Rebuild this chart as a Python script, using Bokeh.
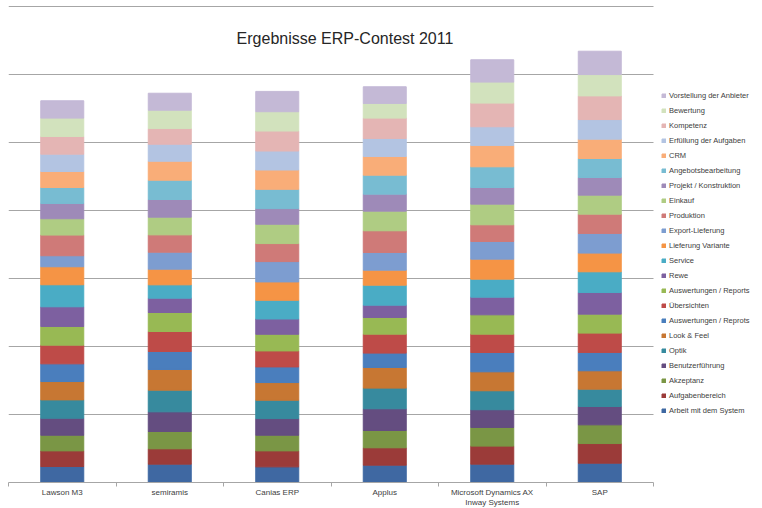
#===========================
#       Bokeh-Related Imports
from bokeh.embed import file_html
from bokeh.resources import INLINE
from bokeh.models import (ColumnDataSource, Legend, LegendItem, FixedTicker,
                          LinearAxis, Label, Grid)
from bokeh.plotting import figure

#-- companies (x categories)
companies = ["Lawson M3", "semiramis", "Canias ERP", "Applus",
             "Microsoft Dynamics AX\nInway Systems", "SAP"]

#-- criteria, bottom of the stack first
criteria = [
    "Arbeit mit dem System", "Aufgabenbereich", "Akzeptanz", "Benutzerführung",
    "Optik", "Look & Feel", "Auswertungen / Reprots", "Übersichten",
    "Auswertungen / Reports", "Rewe", "Service", "Lieferung Variante",
    "Export-Lieferung", "Produktion", "Einkauf", "Projekt / Konstruktion",
    "Angebotsbearbeitung", "CRM", "Erfüllung der Aufgaben", "Kompetenz",
    "Bewertung", "Vorstellung der Anbieter",
]

#-- scores per company, same order as criteria
lawson_m3 = [2.35, 2.30, 2.30, 2.50, 2.70, 2.70, 2.60, 2.75, 2.75, 2.89, 3.24,
             2.65, 1.62, 3.04, 2.40, 2.25, 2.35, 2.35, 2.55, 2.60, 2.70, 2.55]
semiramis = [2.70, 2.25, 2.55, 2.89, 3.19, 3.04, 2.65, 2.94, 2.79, 2.11, 1.96,
             2.30, 2.50, 2.55, 2.60, 2.60, 2.84, 2.79, 2.50, 2.30, 2.70, 2.50]
canias_erp = [2.30, 2.35, 2.30, 2.45, 2.70, 2.60, 2.30, 2.35, 2.45, 2.25, 2.75,
              2.70, 2.99, 2.65, 2.84, 2.30, 2.84, 2.84, 2.79, 2.94, 2.84, 2.99]
applus = [2.55, 2.55, 2.55, 3.19, 3.04, 3.04, 2.11, 2.79, 2.45, 1.81, 2.94,
          2.21, 2.60, 3.19, 2.89, 2.50, 2.79, 2.75, 2.65, 2.99, 2.16, 2.45]
ms_dynamics = [2.70, 2.65, 2.75, 2.60, 2.79, 2.79, 2.84, 2.70, 2.84, 2.60, 2.65,
               2.94, 2.60, 2.45, 3.04, 2.45, 3.04, 3.14, 2.75, 3.48, 3.09, 3.28]
sap = [2.84, 2.89, 2.75, 2.70, 2.55, 2.70, 2.70, 2.84, 2.79, 3.19, 3.04,
       2.75, 2.89, 2.84, 2.79, 2.60, 2.79, 2.84, 2.89, 3.48, 3.14, 3.43]

grid_values = [10, 20, 30, 40, 50, 60, 70]

colors = [
    "#3F68A2", "#9B3B39", "#7A9645", "#644D80", "#378A9E", "#C77733",
    "#4A7EBD", "#BE4B48", "#98B954", "#7D60A0", "#4AACC5", "#F59445",
    "#7D9DD0", "#CF7A78", "#AFCC83", "#9E8AB8", "#78BCD2", "#F9AD78",
    "#B3C4E2", "#E4B5B4", "#D2E2BD", "#C4B9D6",
]

FONT = "Liberation Sans"

#-- define data source (one slot per company, bars at slot centres)
n = len(companies)
rows = [lawson_m3, semiramis, canias_erp, applus, ms_dynamics, sap]
centers = [i + 0.5 for i in range(n)]
edges = list(range(n + 1))
data = {"x": centers}
keys = []
for i in range(len(criteria)):
    key = f"c{i}"
    keys.append(key)
    data[key] = [r[i] for r in rows]
source = ColumnDataSource(data=data)

#-- the frame runs to the right edge, the legend sits in its last 109 px
p = figure(
    x_range=(0, n * 754 / 645),
    y_range=(0, 70.3),
    frame_width=754,
    frame_height=478,
    x_axis_location=None,
    y_axis_location=None,
    toolbar_location=None,
    output_backend="svg",
    min_border_left=8,
    min_border_top=4,
    min_border_right=0,
    min_border_bottom=0,
)
p.outline_line_color = None

#-- horizontal grid lines, only across the bar slots
p.xgrid.visible = False
p.ygrid.visible = False
grid = Grid(dimension=1, ticker=FixedTicker(ticks=grid_values), grid_line_color="#A6A6A6")
if "cross_bounds" in Grid.properties():
    grid.cross_bounds = (0, n)
p.add_layout(grid)

#-- stacked bars
bars = p.vbar_stack(keys, x="x", width=0.4, color=colors, source=source)

#-- category axis: names under the slots, ticks between them
cat_axis = LinearAxis(ticker=FixedTicker(ticks=centers, minor_ticks=edges),
                      bounds=(0, n),
                      major_label_overrides={c: name for c, name in zip(centers, companies)},
                      axis_line_color="#A6A6A6",
                      major_tick_line_color=None,
                      minor_tick_line_color="#A6A6A6",
                      minor_tick_out=4, minor_tick_in=0,
                      major_tick_out=0, major_tick_in=0,
                      major_label_standoff=1,
                      major_label_text_font=FONT,
                      major_label_text_font_size="8px",
                      major_label_text_color="#404040")
p.add_layout(cat_axis, "below")

#-- legend, top of the stack first
items = [LegendItem(label=name, renderers=[r]) for name, r in zip(criteria, bars)]
legend = Legend(items=items[::-1], location=(653, 65),
                label_text_font=FONT, label_text_font_size="7.5px",
                label_text_color="#404040",
                glyph_width=5, glyph_height=5, label_height=13, spacing=2,
                label_standoff=3, padding=3, margin=0,
                border_line_color=None, background_fill_alpha=0)
p.add_layout(legend)

#-- chart title sits inside the plot area
p.add_layout(Label(x=3.13, y=65.25, text="Ergebnisse ERP-Contest 2011",
                   text_align="center", text_baseline="alphabetic",
                   text_font=FONT, text_font_size="16px", text_color="#262626"))

open("out.html", "w").write(file_html(p, INLINE))
